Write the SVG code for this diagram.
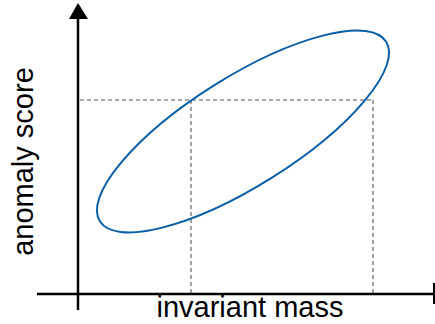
<svg xmlns="http://www.w3.org/2000/svg" width="435" height="324" viewBox="0 0 435 324">
<style>
.axis{stroke:#000;stroke-width:2.5;fill:none}
.dash{stroke:#555;stroke-width:1.1;stroke-dasharray:4,3;fill:none}
.lbl{font-family:"Liberation Sans",Arial,sans-serif;font-size:29px;fill:#000}
</style>
<rect width="435" height="324" fill="#fff"/>
<g id="connectors">
<line class="dash" x1="80" y1="100" x2="372" y2="100"/>
<line class="dash" x1="191" y1="100" x2="191" y2="293"/>
<line class="dash" x1="373" y1="100" x2="373" y2="293"/>
<line class="axis" x1="78" y1="16" x2="78" y2="310"/>
<line class="axis" x1="37" y1="294" x2="435" y2="294"/>
<line x1="434" y1="283" x2="434" y2="304" stroke="#000" stroke-width="2"/>
<polygon points="78,3 69,19 88,19" fill="#000"/>
</g>
<g id="ellipse">
<ellipse cx="243" cy="131.5" rx="169" ry="54.5" transform="rotate(-32.1 243 131.5)" fill="none" stroke="#0b5ea8" stroke-width="2"/>
</g>
<g id="xlabel"><text class="lbl" x="250" y="317" text-anchor="middle">invariant mass</text></g>
<g id="ylabel"><text class="lbl" transform="translate(32.5 161.5) rotate(-90)" text-anchor="middle">anomaly score</text></g>
</svg>
